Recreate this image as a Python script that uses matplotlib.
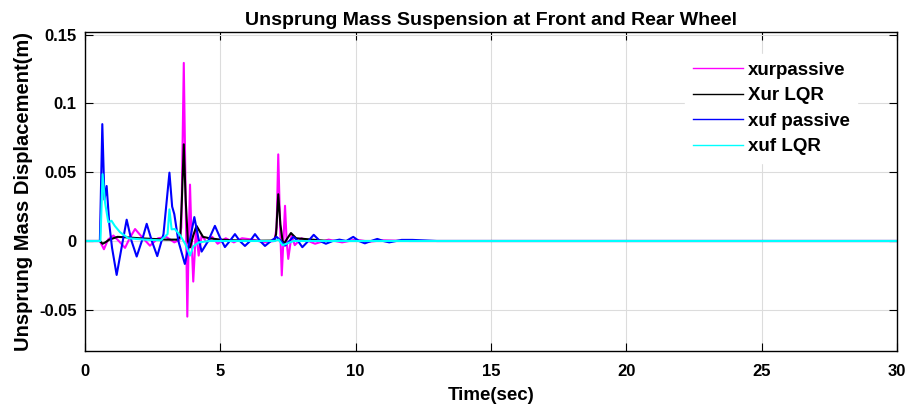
import matplotlib
matplotlib.use("Agg")
import matplotlib.pyplot as plt

# === data (time in sec, displacement in m) ===
t_urp = [0, 0.55, 0.70, 0.85, 1.05, 1.25, 1.48, 1.65, 1.85, 2.1, 2.40, 2.7, 3.0, 3.3, 3.5,
         3.56, 3.65, 3.72, 3.78, 3.83, 3.88, 3.94, 4.0, 4.1, 4.2, 4.31, 4.5, 4.7, 4.9, 5.2,
         5.5, 5.8, 6.2, 6.6, 7.0, 7.08, 7.14, 7.21, 7.27, 7.33, 7.39, 7.45, 7.51, 7.63, 7.75,
         8.0, 8.5, 9.0, 9.5, 10.0, 10.5, 11.0, 12.0, 30]
x_urp = [0, 0, -0.006, 0.001, 0.004, 0.0, -0.005, 0.002, 0.0087, 0.003, -0.0034, 0.002, 0.003,
         -0.001, 0.001, 0.01, 0.1295, 0.03, -0.055, 0.0, 0.041, 0.0, -0.0295, 0.0087, -0.0106,
         0.004, -0.001, 0.003, -0.002, 0.002, -0.001, 0.002, 0.001, -0.001, 0.0, 0.01, 0.063,
         0.01, -0.025, 0.0, 0.0256, 0.0, -0.013, 0.004, -0.003, 0.002, -0.002, 0.001, -0.001,
         0.001, -0.0005, 0.0005, 0, 0]

t_url = [0, 0.55, 0.65, 0.75, 0.9, 1.2, 1.5, 2.0, 2.5, 3.0, 3.4, 3.52, 3.58, 3.65, 3.72, 3.8,
         3.88, 4.0, 4.12, 4.36, 4.6, 5.0, 5.5, 6.0, 6.5, 7.0, 7.06, 7.14, 7.22, 7.30, 7.35,
         7.48, 7.61, 7.8, 8.1, 8.5, 9.0, 30]
x_url = [0, 0, -0.002, -0.001, 0.001, 0.003, 0.0027, 0.002, 0.0015, 0.001, 0.001, 0.003, 0.03,
         0.0703, 0.03, 0.0, -0.0046, 0.004, 0.011, 0.003, 0.002, 0.001, 0.0005, 0.0003, 0.0002,
         0.0003, 0.005, 0.034, 0.012, 0.0, -0.002, 0.002, 0.0058, 0.002, 0.0015, 0.0008, 0, 0]

t_ufp = [0, 0.55, 0.64, 0.72, 0.80, 0.90, 1.0, 1.17, 1.35, 1.54, 1.72, 1.91, 2.1, 2.28, 2.47,
         2.67, 2.9, 3.12, 3.22, 3.30, 3.45, 3.69, 3.87, 4.04, 4.18, 4.31, 4.55, 4.80, 5.0,
         5.17, 5.35, 5.54, 5.72, 5.91, 6.1, 6.28, 6.47, 6.65, 6.87, 7.08, 7.24, 7.39, 7.55,
         7.7, 7.87, 8.03, 8.25, 8.45, 8.68, 8.9, 9.15, 9.4, 9.65, 9.91, 10.12, 10.34, 10.57,
         10.8, 11.02, 11.24, 11.7, 12.1, 13.0, 30]
x_ufp = [0, 0, 0.085, 0.03, 0.040, 0.012, -0.005, -0.0247, -0.005, 0.0155, 0, -0.0113, 0,
         0.0125, 0, -0.011, 0.005, 0.0497, 0.025, 0.0195, 0, -0.0167, 0, 0.0174, 0.003,
         -0.0077, 0, 0.011, 0.002, -0.0044, 0, 0.005, 0, -0.0036, 0, 0.005, 0, -0.0036, 0,
         0.003, 0, -0.0034, 0, 0.003, 0, -0.0045, 0, 0.0045, 0, -0.002, 0, 0.001, 0, 0.003, 0,
         -0.0017, 0, 0.0015, 0, -0.001, 0.0008, 0.0008, 0, 0]

t_ufl = [0, 0.57, 0.65, 0.74, 0.86, 0.98, 1.1, 1.29, 1.6, 2.2, 2.8, 3.05, 3.12, 3.2, 3.32,
         3.51, 3.7, 3.88, 4.0, 4.2, 4.6, 5.0, 6.0, 7.0, 7.15, 7.3, 7.45, 7.7, 8.0, 30]
x_ufl = [0, 0, 0.0486, 0.028, 0.0137, 0.0147, 0.011, 0.0065, 0.002, 0.001, 0.0005, 0.005,
         0.023, 0.0085, 0.0087, 0.0043, -0.002, -0.0106, -0.004, -0.001, 0.0, 0.0, 0, 0,
         0.001, -0.003, -0.002, 0, 0, 0]

labels = ["xurpassive", "Xur LQR", "xuf passive", "xuf LQR"]
colors = ["#FF00FF", "#000000", "#0000FF", "#00FFFF"]
xticks = [0, 5, 10, 15, 20, 25, 30]
yticks = [-0.05, 0, 0.05, 0.1, 0.15]
ytick_labels = ["-0.05", "0", "0.05", "0.1", "0.15"]

plt.rcParams["font.family"] = ["Liberation Sans", "DejaVu Sans"]

fig = plt.figure(figsize=(9.07, 4.09), dpi=100)
ax = fig.add_axes([0.0937, 0.1418, 0.8953, 0.78])

series = [(t_urp, x_urp), (t_url, x_url), (t_ufp, x_ufp), (t_ufl, x_ufl)]
for (tt, xx), lab, col in zip(series, labels, colors):
    ax.plot(tt, xx, color=col, lw=1.5, label=lab)

ax.set_xlim(0, 30)
ax.set_ylim(-0.08, 0.152)
ax.set_xticks(xticks)
ax.set_yticks(yticks)
ax.set_yticklabels(ytick_labels)
ax.grid(True, color="#dcdcdc", lw=0.8)
ax.set_axisbelow(True)
ax.tick_params(direction="in", top=True, right=True, length=6, labelsize=12)
ax.tick_params(axis="x", pad=9)
ax.tick_params(axis="y", pad=6)
for lbl in ax.get_xticklabels() + ax.get_yticklabels():
    lbl.set_fontweight("bold")
for sp in ax.spines.values():
    sp.set_linewidth(1.0)

ax.set_title("Unsprung Mass Suspension at Front and Rear Wheel", fontsize=14,
             fontweight="bold", pad=5)
ax.set_xlabel("Time(sec)", fontsize=13.5, fontweight="bold", labelpad=6)
ax.set_ylabel("Unsprung Mass Displacement(m)", fontsize=14.5, fontweight="bold", labelpad=4)

leg = ax.legend(loc="upper left", bbox_to_anchor=(0.739, 0.93), frameon=True,
                prop={"weight": "bold", "size": 13.5}, handlelength=2.67,
                labelspacing=0.44, handletextpad=0.27, borderaxespad=0, borderpad=0.4)
leg.get_frame().set_edgecolor("white")
leg.get_frame().set_alpha(1.0)
for h in leg.get_lines():
    h.set_linewidth(1.0)

fig.savefig("out.png", dpi=100)
